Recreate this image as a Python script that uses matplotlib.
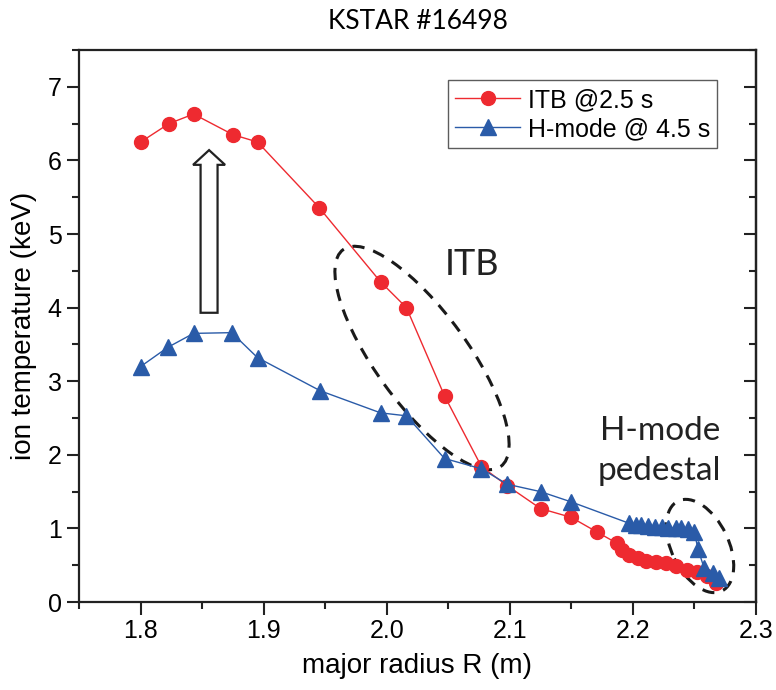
import matplotlib
matplotlib.use("Agg")
import matplotlib.pyplot as plt
from matplotlib.patches import Ellipse, FancyArrow
from matplotlib.ticker import MultipleLocator

# ITB profile at 2.5 s
r_itb = [1.800, 1.823, 1.843, 1.875, 1.895, 1.945, 1.995, 2.016, 2.047, 2.077,
         2.098, 2.125, 2.150, 2.171, 2.187, 2.191, 2.197, 2.204, 2.211, 2.219,
         2.227, 2.235, 2.244, 2.252, 2.260, 2.268]
t_itb = [6.25, 6.50, 6.63, 6.35, 6.25, 5.36, 4.35, 4.00, 2.80, 1.84,
         1.58, 1.27, 1.15, 0.95, 0.80, 0.71, 0.64, 0.60, 0.56, 0.54,
         0.53, 0.49, 0.44, 0.41, 0.36, 0.26]

# H-mode profile at 4.5 s
r_h = [1.800, 1.822, 1.843, 1.874, 1.895, 1.946, 1.995, 2.016, 2.047, 2.077,
       2.098, 2.125, 2.150, 2.197, 2.203, 2.207, 2.212, 2.218, 2.224, 2.229,
       2.235, 2.239, 2.245, 2.250, 2.253, 2.258, 2.265, 2.270]
t_h = [3.20, 3.46, 3.65, 3.66, 3.32, 2.87, 2.57, 2.53, 1.95, 1.81,
       1.60, 1.50, 1.36, 1.07, 1.05, 1.04, 1.03, 1.02, 1.02, 1.01,
       1.00, 1.00, 0.99, 0.95, 0.72, 0.46, 0.40, 0.33]

red = "#ee2a30"
blue = "#2a5ba8"

plt.rcParams["font.family"] = ["Liberation Sans", "DejaVu Sans"]

fig = plt.figure(figsize=(7.76, 6.9), dpi=100)
ax = fig.add_axes([0.102, 0.1275, 0.872, 0.8])

ax.plot(r_itb, t_itb, "-o", color=red, lw=1, ms=10, mec=red, label="ITB @2.5 s")
ax.plot(r_h, t_h, "-^", color=blue, lw=1, ms=11, mec=blue, label="H-mode @ 4.5 s")

ax.set_xlim(1.75, 2.3)
ax.set_ylim(0, 7.5)
ax.xaxis.set_major_locator(MultipleLocator(0.1))
ax.xaxis.set_minor_locator(MultipleLocator(0.05))
ax.yaxis.set_major_locator(MultipleLocator(1))
ax.yaxis.set_minor_locator(MultipleLocator(0.5))
ax.tick_params(which="both", direction="out", labelsize=18, width=1.5, color="#222")
ax.tick_params(which="major", length=9)
ax.tick_params(which="minor", length=5)
for s in ax.spines.values():
    s.set_linewidth(1.6)
    s.set_color("#222")

# right axis: ticks pointing inward, no labels
ax2 = ax.secondary_yaxis("right")
ax2.yaxis.set_major_locator(MultipleLocator(1))
ax2.yaxis.set_minor_locator(MultipleLocator(0.5))
ax2.tick_params(which="both", direction="in", labelright=False, width=1.5, color="#222")
ax2.tick_params(which="major", length=9)
ax2.tick_params(which="minor", length=5)
ax2.spines["right"].set_linewidth(1.6)

ax.set_xlabel("major radius R (m)", fontsize=20, labelpad=7)
ax.set_ylabel("ion temperature (keV)", fontsize=20, labelpad=8)
ax.set_title("KSTAR #16498", fontsize=19, family="Lato", pad=15)

leg = ax.legend(loc="upper right", bbox_to_anchor=(0.943, 0.945), borderaxespad=0,
                fontsize=18, frameon=True, fancybox=False, edgecolor="#333",
                handlelength=2.6, handletextpad=0.3, borderpad=0.3,
                labelspacing=0.2)
leg.get_frame().set_linewidth(1.0)

# hollow arrow from H-mode up to ITB
ax.add_patch(FancyArrow(1.8556, 3.93, 0, 2.21, width=0.0138, head_width=0.026,
                        head_length=0.2, length_includes_head=True,
                        fc="white", ec="#222", lw=1.6))

# dashed ellipses, drawn in inches so their shape does not depend on axis scales
tr = fig.dpi_scale_trans
ax.add_artist(Ellipse((4.22, (690 - 358) / 100), 2.68, 0.92, angle=-54,
                      transform=tr, fill=False, ls=(0, (4, 3)), lw=2.2, ec="#1a1a1a"))
ax.add_artist(Ellipse((7.00, (690 - 546) / 100), 1.0, 0.57, angle=-64,
                      transform=tr, fill=False, ls=(0, (4, 3)), lw=2.2, ec="#1a1a1a"))

ax.text(2.069, 4.58, "ITB", fontsize=26, family="Lato", ha="center", va="center", color="#222")
ax.text(2.222, 2.05, "H-mode\npedestal", fontsize=24, family="Lato", ha="center",
        va="center", color="#222", linespacing=1.4)

fig.savefig("out.png", dpi=100)
